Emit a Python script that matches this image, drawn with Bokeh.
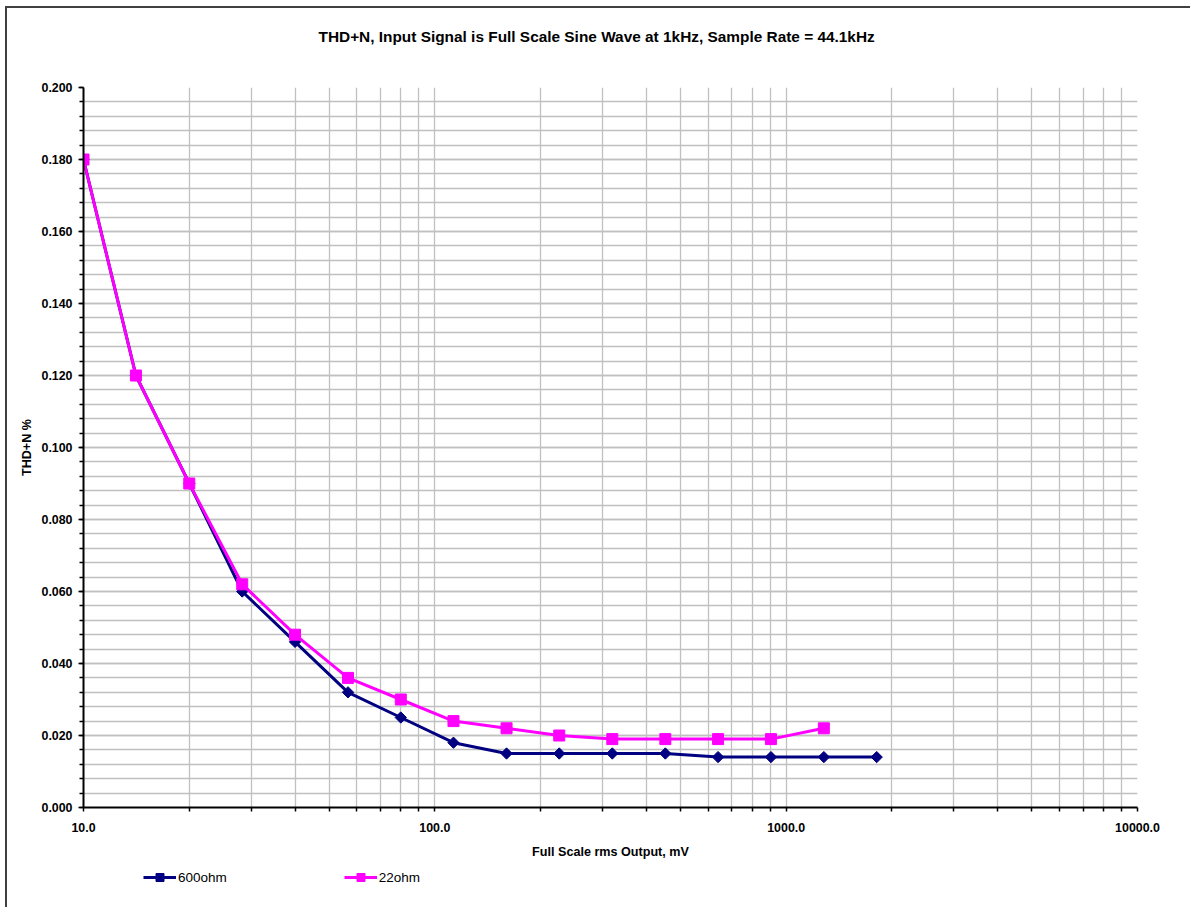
import numpy as np
from bokeh.plotting import figure
from bokeh.layouts import column
from bokeh.models import (Range1d, FixedTicker, PrintfTickFormatter, Legend, LegendItem, Title)
from bokeh.embed import file_html
from bokeh.resources import INLINE

# ---- data ----
output_mv_600 = [10.0, 14.1, 20.0, 28.3, 40.0, 56.6, 80.0, 113.0, 160.0, 226.0,
                 320.0, 453.0, 640.0, 905.0, 1280.0, 1810.0]
thd_600 = [0.180, 0.120, 0.090, 0.060, 0.046, 0.032, 0.025, 0.018, 0.015, 0.015,
           0.015, 0.015, 0.014, 0.014, 0.014, 0.014]

output_mv_22 = [10.0, 14.1, 20.0, 28.3, 40.0, 56.6, 80.0, 113.0, 160.0, 226.0,
                320.0, 453.0, 640.0, 905.0, 1280.0]
thd_22 = [0.180, 0.120, 0.090, 0.062, 0.048, 0.036, 0.030, 0.024, 0.022, 0.020,
          0.019, 0.019, 0.019, 0.019, 0.022]

x_major_ticks = [10, 100, 1000, 10000]
x_minor_ticks = [m * d for d in (10, 100, 1000) for m in range(2, 10)]
y_major_ticks = [0.0, 0.02, 0.04, 0.06, 0.08, 0.10, 0.12, 0.14, 0.16, 0.18, 0.20]
y_minor_ticks = [round(i * 0.004, 3) for i in range(0, 51)]

title_text = "THD+N, Input Signal is Full Scale Sine Wave at 1kHz, Sample Rate = 44.1kHz"
x_label = "Full Scale rms Output, mV"
y_label = "THD+N %"
series_names = ["600ohm", "22ohm"]

FONT = "Liberation Sans"
GRID = "#c0c0c0"
NAVY = "#000080"
MAGENTA = "#ff00ff"
FRAME = "#404040"

p = figure(frame_width=1054, frame_height=720, x_axis_type="log",
           x_range=Range1d(10, 10000), y_range=Range1d(0, 0.2),
           output_backend="svg", toolbar_location=None, title=None,
           min_border_left=83, min_border_right=53,
           min_border_top=87, min_border_bottom=60)
# outer chart-area frame (top and left edges visible in the reference)
p.styles = {
    "background": (f"linear-gradient({FRAME}, {FRAME}) 5px 6px / 2px 100% no-repeat, "
                   f"linear-gradient({FRAME}, {FRAME}) 5px 6px / 100% 2px no-repeat, white"),
}
p.border_fill_color = None
p.outline_line_color = None
p.background_fill_color = "white"

# spacer panel next to the plot area, then the title above it
p.add_layout(Title(text=" ", standoff=40, text_font_size="1px"), "above")
p.add_layout(Title(text=title_text, align="left", offset=235, standoff=0,
                   text_font=FONT, text_font_size="15.4px", text_font_style="bold",
                   text_color="black"), "above")

# axes
xa = p.xaxis[0]
xa.ticker = FixedTicker(ticks=x_major_ticks, minor_ticks=x_minor_ticks)
xa.formatter = PrintfTickFormatter(format="%.1f")
ya = p.yaxis[0]
ya.ticker = FixedTicker(ticks=y_major_ticks, minor_ticks=y_minor_ticks)
ya.formatter = PrintfTickFormatter(format="%.3f")

for ax in (xa, ya):
    ax.axis_line_color = "black"
    ax.axis_line_width = 2
    ax.major_tick_line_color = "black"
    ax.minor_tick_line_color = "black"
    ax.major_tick_line_width = 1.5
    ax.minor_tick_line_width = 1.5
    ax.major_tick_in = 0
    ax.minor_tick_in = 0
    ax.major_label_text_font = FONT
    ax.major_label_text_font_size = "12.4px"
    ax.major_label_text_font_style = "bold"
    ax.major_label_text_color = "black"
    ax.axis_label_text_font = FONT
    ax.axis_label_text_font_size = "12.6px"
    ax.axis_label_text_font_style = "bold"
    ax.axis_label_text_color = "black"

xa.major_tick_out = 4
xa.minor_tick_out = 4
xa.major_label_standoff = 11
xa.axis_label = x_label
xa.axis_label_standoff = 10

ya.major_tick_out = 5
ya.minor_tick_out = 4
ya.major_label_standoff = 6
ya.axis_label = y_label
ya.axis_label_standoff = 4

# grid
for g in (p.xgrid, p.ygrid):
    g.grid_line_color = GRID
    g.minor_grid_line_color = GRID
    g.grid_line_width = 1.3
    g.minor_grid_line_width = 1.3

# series
line_kw_600 = dict(line_color=NAVY, line_width=3)
mark_kw_600 = dict(marker="square", angle=np.pi / 4, size=8, fill_color=NAVY, line_color=NAVY)
line_kw_22 = dict(line_color=MAGENTA, line_width=3)
mark_kw_22 = dict(marker="square", size=11, fill_color=MAGENTA, line_color=MAGENTA)

p.line(output_mv_600, thd_600, **line_kw_600)
p.scatter(output_mv_600, thd_600, **mark_kw_600)
p.line(output_mv_22, thd_22, **line_kw_22)
p.scatter(output_mv_22, thd_22, **mark_kw_22)

# legend strip below the chart: the series are re-used here only as legend
# sources; its ranges keep them out of view, so only the legend shows.
lf = figure(width=1190, height=40, output_backend="svg", toolbar_location=None,
            x_range=Range1d(-2, -1), y_range=Range1d(-2, -1),
            x_axis_location=None, y_axis_location=None,
            min_border=0, min_border_left=0, min_border_right=0,
            min_border_top=0, min_border_bottom=0)
lf.grid.visible = False
lf.outline_line_color = None
lf.border_fill_color = None
lf.background_fill_color = None
lf.styles = {"background": f"linear-gradient({FRAME}, {FRAME}) 5px 0px / 2px 100% no-repeat, white"}

ll1 = lf.line(output_mv_600, thd_600, **line_kw_600)
ls1 = lf.scatter(output_mv_600, thd_600, **mark_kw_600)
ll2 = lf.line(output_mv_22, thd_22, **line_kw_22)
ls2 = lf.scatter(output_mv_22, thd_22, **mark_kw_22)

legend = Legend(items=[LegendItem(label=series_names[0], renderers=[ll1, ls1]),
                       LegendItem(label=series_names[1], renderers=[ll2, ls2])],
                location=(60, 20), orientation="horizontal",
                glyph_width=33, glyph_height=20, label_standoff=2, spacing=117,
                padding=0, margin=0, border_line_color=None,
                background_fill_alpha=0,
                label_text_font=FONT, label_text_font_size="13.5px",
                label_text_color="black")
lf.add_layout(legend)

layout = column(p, lf, spacing=0)
open("out.html", "w").write(file_html(layout, INLINE))
